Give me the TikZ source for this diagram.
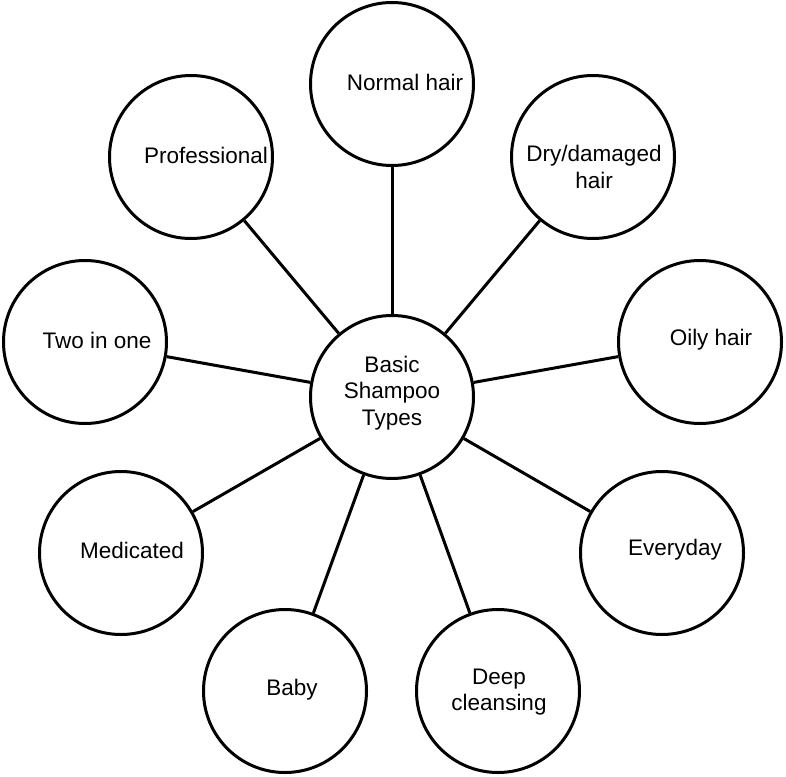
\documentclass[tikz,border=0pt]{standalone}
\usepackage{fontspec}
\setmainfont{Liberation Sans}
\begin{document}
\begin{tikzpicture}[x=1pt,y=-1pt,
  bubble/.style={circle,draw=black,line width=3pt,minimum size=163pt,inner sep=0pt,fill=white},
  txt/.style={font=\fontsize{22.5}{26.5}\selectfont,align=center},
  link/.style={line width=3pt}]
\useasboundingbox (0,0) rectangle (786,776);
\node[bubble] (c) at (392,397) {};
\node[txt] at (392,393) {Basic\\Shampoo\\Types};
\node[bubble] (n1) at (392,84) {};
\node[txt] at (405,82) {Normal hair};
\node[bubble] (n2) at (593,157) {};
\node[txt] at (594,167) {Dry/damaged\\hair};
\node[bubble] (n3) at (700,342) {};
\node[txt] at (711,340) {Oily hair};
\node[bubble] (n4) at (662,553) {};
\node[txt] at (675,550) {Everyday};
\node[bubble] (n5) at (498,691) {};
\node[txt] at (499,692) {Deep\\cleansing};
\node[bubble] (n6) at (285,691) {};
\node[txt] at (292,690) {Baby};
\node[bubble] (n7) at (121,553) {};
\node[txt] at (132,550) {Medicated};
\node[bubble] (n8) at (85,342) {};
\node[txt] at (97,340) {Two in one};
\node[bubble] (n9) at (191,157) {};
\node[txt] at (206,155) {Professional};
\foreach \n in {n1,n2,n3,n4,n5,n6,n7,n8,n9} \draw[link] (c) -- (\n);
\end{tikzpicture}
\end{document}
